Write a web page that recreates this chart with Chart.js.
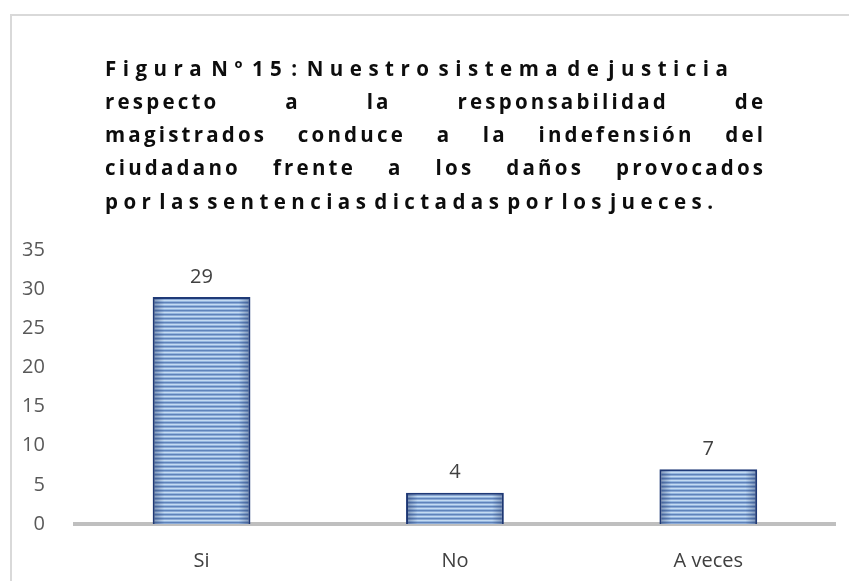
<!DOCTYPE html>
<html>
<head>
<meta charset="utf-8">
<script src="https://cdn.jsdelivr.net/npm/chart.js@4.4.0/dist/chart.umd.min.js"></script>
<style>
  html, body { margin: 0; padding: 0; background: #fff; }
  #wrap { width: 849px; height: 581px; }
</style>
</head>
<body>
<div id="wrap"><canvas id="myChart" width="849" height="581"></canvas></div>
<script>
// datos del gráfico
const categorias = ['Si', 'No', 'A veces'];
const valores = [29, 4, 7];
const yMin = 0, yMax = 35, yPaso = 5;
const tituloLineas = [
    'Figura Nº 15 : Nuestro sistema de justicia',
    'respecto a la responsabilidad de',
    'magistrados conduce a la indefensión del',
    'ciudadano frente a los daños provocados',
    'por las sentencias dictadas por los jueces.'
];
const tituloJustificado = [false, true, true, true, false];
const tituloFinLinea = [728, 763, 763, 763, 713];

// patrón de rayas horizontales para las barras
function crearPatron() {
    const c = document.createElement('canvas');
    c.width = 4; c.height = 4;
    const g = c.getContext('2d');
    const colores = ['#c4dbf2', '#95b6df', '#5f83bb', '#8aaad6'];
    colores.forEach((col, i) => { g.fillStyle = col; g.fillRect(0, i, 4, 1); });
    return g.createPattern(c, 'repeat');
}

// marco y título (texto espaciado y justificado)
const tituloPlugin = {
    id: 'titulo',
    beforeDraw(chart) {
        const ctx = chart.ctx;
        ctx.save();
        ctx.strokeStyle = '#d9d9d9';
        ctx.lineWidth = 2;
        ctx.strokeRect(11, 15, 900, 700);

        ctx.font = 'bold 20.5px "Open Sans"';
        ctx.fillStyle = '#0d0d0d';
        ctx.textBaseline = 'middle';
        const x0 = 105;
        tituloLineas.forEach((linea, i) => {
            const y = 70 + i * 33.2;
            const palabras = linea.split(' ');
            const ancho = p => [...p].reduce((s, ch) => s + ctx.measureText(ch).width, 0);
            let ls, gap;
            if (tituloJustificado[i]) {
                ls = 3.2;
                const total = palabras.reduce((s, p) => s + ancho(p) + ls * (p.length - 1), 0);
                gap = (tituloFinLinea[i] - x0 - total) / (palabras.length - 1);
            } else {
                const letras = palabras.join('');
                const huecos = letras.length - 1;
                ls = (tituloFinLinea[i] - x0 - ancho(letras) - 3 * (palabras.length - 1)) / huecos;
                gap = ls + 3;
            }
            let x = x0;
            palabras.forEach(p => {
                [...p].forEach(ch => {
                    ctx.fillText(ch, x, y);
                    x += ctx.measureText(ch).width + ls;
                });
                x += gap - ls;
            });
        });
        ctx.restore();
    }
};

// etiquetas de valores y sombreado lateral de las barras
const etiquetasPlugin = {
    id: 'etiquetas',
    afterDatasetsDraw(chart) {
        const ctx = chart.ctx;
        ctx.save();
        chart.getDatasetMeta(0).data.forEach((bar, i) => {
            const w = bar.width;
            const izq = bar.x - w / 2;
            const grad = ctx.createLinearGradient(izq, 0, izq + w, 0);
            grad.addColorStop(0, 'rgba(30,50,100,0.45)');
            grad.addColorStop(0.12, 'rgba(30,50,100,0)');
            grad.addColorStop(0.88, 'rgba(30,50,100,0)');
            grad.addColorStop(1, 'rgba(30,50,100,0.45)');
            ctx.fillStyle = grad;
            ctx.fillRect(izq + 1, bar.y + 1, w - 2, bar.base - bar.y - 1);
        });
        ctx.font = '20px "Open Sans"';
        ctx.fillStyle = '#404040';
        ctx.textAlign = 'center';
        ctx.textBaseline = 'middle';
        chart.getDatasetMeta(0).data.forEach((bar, i) => {
            ctx.fillText(String(valores[i]), bar.x, bar.y - 20);
        });
        ctx.restore();
    }
};

const ctx = document.getElementById('myChart').getContext('2d');
const myBarChart = new Chart(ctx, {
    type: 'bar',
    data: {
        labels: categorias,
        datasets: [{
            data: valores,
            backgroundColor: crearPatron(),
            borderColor: '#1f3a78',
            borderWidth: 2,
            borderSkipped: 'bottom',
            categoryPercentage: 1,
            barPercentage: 0.386
        }]
    },
    options: {
        responsive: false,
        animation: false,
        layout: { padding: { top: 250, left: 0, right: 14, bottom: -9 } },
        plugins: {
            legend: { display: false },
            title: { display: false },
            tooltip: { enabled: false }
        },
        scales: {
            x: {
                grid: { display: false },
                border: { display: true, color: '#bfbfbf', width: 4 },
                ticks: { color: '#404040', font: { family: 'Open Sans', size: 20 }, padding: 17 }
            },
            y: {
                min: yMin,
                max: yMax,
                grid: { display: false },
                border: { display: false },
                ticks: { stepSize: yPaso, color: '#595959', font: { family: 'Open Sans', size: 20 }, padding: 22 }
            }
        }
    },
    plugins: [tituloPlugin, etiquetasPlugin]
});
</script>
</body>
</html>
